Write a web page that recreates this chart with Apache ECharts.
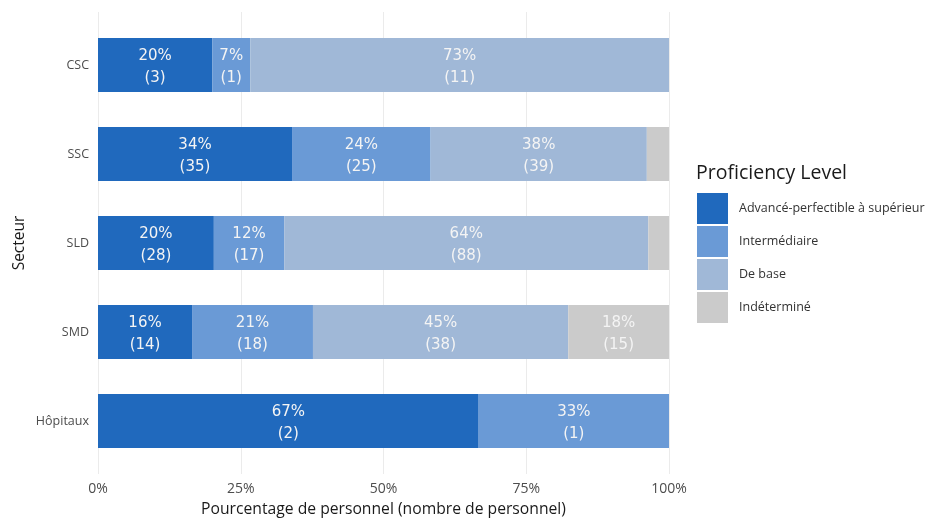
<!DOCTYPE html>
<html>
<head>
<meta charset="utf-8">
<script src="https://cdn.jsdelivr.net/npm/echarts@6/dist/echarts.min.js"></script>
<style>html,body{margin:0;padding:0;background:#fff}#c{width:943px;height:519px}</style>
</head>
<body>
<div id="c"></div>
<script>
const categories = ['CSC', 'SSC', 'SLD', 'SMD', 'Hôpitaux'];
const levels = ['Advancé-perfectible à supérieur', 'Intermédiaire', 'De base', 'Indéterminé'];
const advance = [3, 35, 28, 14, 2];
const intermediaire = [1, 25, 17, 18, 1];
const deBase = [11, 39, 88, 38, 0];
const indetermine = [0, 4, 5, 15, 0];
const xTicks = [0, 25, 50, 75, 100];
const colors = ['#2069BD', '#6A9AD6', '#A0B8D7', '#CBCBCB'];

const counts = [advance, intermediaire, deBase, indetermine];
const totals = categories.map((c, i) => counts.reduce((s, arr) => s + arr[i], 0));

const chart = echarts.init(document.getElementById('c'));
const font = 'Open Sans';

const series = levels.map((name, k) => ({
  name: name,
  type: 'bar',
  stack: 'total',
  xAxisIndex: 0,
  yAxisIndex: 0,
  barWidth: 54,
  itemStyle: { color: colors[k] },
  label: {
    show: true,
    position: 'inside',
    offset: [0, 2],
    color: '#F4F4F4',
    fontFamily: 'DejaVu Sans',
    fontSize: 15,
    lineHeight: 22,
    formatter: p => {
      const pct = p.value;
      if (pct < 5) return '';
      return Math.round(pct) + '%\n(' + p.data.count + ')';
    }
  },
  data: counts[k].map((v, i) => ({ value: v / totals[i] * 100, count: v }))
}));

chart.setOption({
  animation: false,
  title: {
    text: 'Proficiency Level',
    left: 696,
    top: 163,
    padding: 0,
    textStyle: { fontFamily: font, fontSize: 19.5, fontWeight: 'normal', color: '#1a1a1a' }
  },
  legend: {
    orient: 'vertical',
    left: 697,
    top: 193,
    padding: 0,
    itemWidth: 31,
    itemHeight: 31,
    itemGap: 2,
    icon: 'rect',
    data: levels,
    textStyle: { fontFamily: font, fontSize: 12.5, color: '#333', padding: [0, 0, 0, 6] }
  },
  grid: [
    { left: 98, right: 274, top: 20.5, height: 445, outerBoundsMode: 'none' },
    { left: 98, right: 274, top: 12, bottom: 45, outerBoundsMode: 'none' }
  ],
  xAxis: [
    { gridIndex: 0, type: 'value', min: 0, max: 100, show: false },
    {
      gridIndex: 1, type: 'value', min: xTicks[0], max: xTicks[xTicks.length - 1], interval: 25,
      axisLine: { show: false }, axisTick: { show: false },
      splitLine: { show: true, lineStyle: { color: '#EBEBEB', width: 1 } },
      axisLabel: { formatter: '{value}%', color: '#4d4d4d', fontFamily: font, fontSize: 14, margin: 8 },
      name: 'Pourcentage de personnel (nombre de personnel)',
      nameLocation: 'middle',
      nameMoveOverlap: false,
      nameGap: 28,
      nameTextStyle: { fontFamily: font, fontSize: 15.7, color: '#1a1a1a' }
    }
  ],
  yAxis: [
    {
      gridIndex: 0, type: 'category', data: categories, inverse: true,
      axisLine: { show: false }, axisTick: { show: false }, splitLine: { show: false },
      axisLabel: { color: '#4d4d4d', fontFamily: font, fontSize: 12.5, margin: 9 },
      name: 'Secteur',
      nameLocation: 'middle',
      nameMoveOverlap: false,
      nameGap: 70,
      nameTextStyle: { fontFamily: font, fontSize: 15.5, color: '#1a1a1a' }
    },
    { gridIndex: 1, type: 'value', min: 0, max: 1, show: false }
  ],
  series: series
});
</script>
</body>
</html>
